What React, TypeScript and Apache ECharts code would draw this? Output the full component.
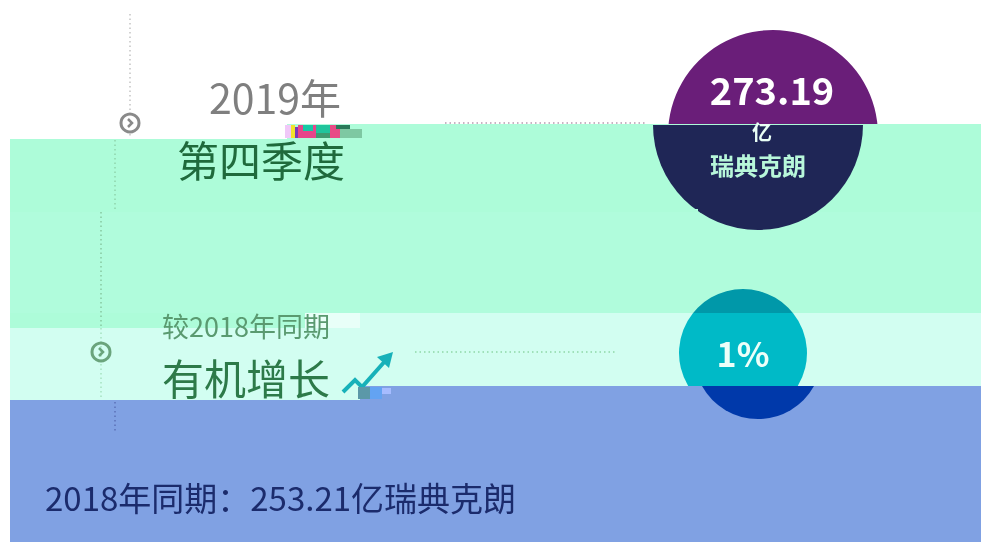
import React, { useEffect, useRef } from "react";
import * as echarts from "echarts";

// ---- data ----
const periodLabels = ["2019年", "第四季度"];
const compareLabels = ["较2018年同期", "有机增长"];
const revenueYears = ["2019", "2018"];
const revenueValues = [273.19, 253.21];
const revenueUnit = ["亿", "瑞典克朗"];
const growthPct = [1];

const FONT = "'Noto Sans CJK SC', 'Noto Sans', sans-serif";

function txt(x: number, y: number, text: string, fill: string, fontSize: number, fontWeight: any = "normal", align = "center", z = 20) {
  return {
    type: "text",
    x,
    y,
    z,
    style: {
      text,
      fill,
      fontSize,
      fontWeight,
      fontFamily: FONT,
      lineHeight: fontSize,
      align,
      verticalAlign: "middle",
      textAlign: align,
      textVerticalAlign: "middle",
    },
  };
}

function dotLine(x1: number, y1: number, x2: number, y2: number, color: string, z = 5) {
  return {
    type: "line",
    z,
    shape: { x1, y1, x2, y2 },
    style: { stroke: color, lineWidth: 1.5, lineDash: [1.5, 3] },
  };
}

function rect(x: number, y: number, w: number, h: number, fill: string, z = 12) {
  return { type: "rect", z, shape: { x, y, width: w, height: h }, style: { fill } };
}

function icon(cx: number, cy: number, color: string) {
  return [
    {
      type: "circle",
      z: 15,
      shape: { cx, cy, r: 9 },
      style: { fill: "none", stroke: color, lineWidth: 3 },
    },
    {
      type: "polyline",
      z: 15,
      shape: { points: [[cx - 2, cy - 4], [cx + 2, cy], [cx - 2, cy + 4]] },
      style: { fill: "none", stroke: color, lineWidth: 2.5 },
    },
  ];
}

let registered = false;
function registerShapes() {
  if (registered) return;
  registered = true;
  echarts.graphic.registerShape(
    "navySeg",
    echarts.graphic.extendPath("M653 125 A105 105 0 0 0 863 125 Z", {}) as any
  );
  echarts.graphic.registerShape(
    "tealMid",
    echarts.graphic.extendPath(
      "M693.04 313 A64 64 0 0 0 688.2 386 L797.8 386 A64 64 0 0 0 792.96 313 Z",
      {}
    ) as any
  );
  echarts.graphic.registerShape(
    "blueBottom",
    echarts.graphic.extendPath("M702 386 A64 64 0 0 0 814 386 Z", {}) as any
  );
}

export default function App() {
  const ref = useRef<HTMLDivElement>(null);

  useEffect(() => {
    if (!ref.current) return;
    registerShapes();
    const chart = echarts.init(ref.current, undefined, { renderer: "svg" });

    const elements: any[] = [
      rect(0, 0, 981, 542, "#ffffff", 0),
      dotLine(130, 14, 130, 112, "#c4c4c4", 1),
      dotLine(130, 134, 130, 138, "#c4c4c4", 1),
      { type: "circle", z: 2, shape: { cx: 773, cy: 135, r: 105 }, style: { fill: "#6a1e79" } },
      {
        type: "polygon",
        z: 3,
        shape: { points: [[10, 139], [287, 139], [287, 124], [981, 124], [981, 400], [10, 400]] },
        style: { fill: "#adfcd9" },
      },
      rect(10, 212, 971, 101, "#b0fcdc", 3),
      dotLine(115, 140, 115, 210, "#8fd4ac"),
      dotLine(101, 212, 101, 400, "#86c8a0"),
      dotLine(445, 123, 645, 123, "#b59ab0", 4),
      { type: "navySeg", z: 6, x: 0, y: 0, style: { fill: "#1f2656" } },
      rect(688, 209, 10, 3, "#adfcd9", 7),
      { type: "circle", z: 6, shape: { cx: 743, cy: 353, r: 64 }, style: { fill: "#0098a9" } },
      {
        type: "polygon",
        z: 7,
        shape: { points: [[10, 328], [307, 328], [307, 313], [981, 313], [981, 400], [10, 400]] },
        style: { fill: "#d2fef1" },
      },
      dotLine(101, 328, 101, 400, "#a6e2c0", 8),
      dotLine(415, 352, 617, 352, "#8ed8a6", 8),
      { type: "tealMid", z: 8, x: 0, y: 0, style: { fill: "#00bac7" } },
      {
        type: "polygon",
        z: 9,
        shape: { points: [[10, 400], [360, 400], [360, 386], [981, 386], [981, 542], [10, 542]] },
        style: { fill: "#80a1e3" },
      },
      { type: "blueBottom", z: 10, x: 0, y: 0, style: { fill: "#0039aa" } },
      dotLine(115, 402, 115, 432, "#5a70b8", 10),
      ...icon(130, 123, "#8a8a8a"),
      ...icon(101, 352, "#6aa47c"),
      {
        type: "polyline",
        z: 15,
        shape: { points: [[343, 392], [355, 380], [362, 387], [386, 360]] },
        style: { fill: "none", stroke: "#17b1b9", lineWidth: 4 },
      },
      {
        type: "polygon",
        z: 15,
        shape: { points: [[393, 352], [377, 357], [389, 368]] },
        style: { fill: "#17b1b9" },
      },
      // glitch artifacts
      rect(285, 125, 6, 13, "#f0c8f8"),
      rect(291, 125, 4, 13, "#f2e22a"),
      rect(295, 127, 3, 11, "#7a3ab8"),
      rect(298, 125, 18, 13, "#e8448a"),
      rect(303, 125, 10, 6, "#18c8a6"),
      rect(316, 125, 14, 8, "#20c49c"),
      rect(316, 133, 16, 5, "#3f9a70"),
      rect(330, 125, 10, 13, "#e84a86"),
      rect(336, 125, 14, 4, "#2a7a5a"),
      rect(340, 129, 22, 9, "#7ec8a2"),
      rect(358, 387, 12, 12, "#5b98a8", 16),
      rect(370, 387, 12, 12, "#63a3f2", 16),
      rect(382, 388, 9, 6, "#a6bcff", 16),
      rect(305, 313, 55, 15, "#e8fff8", 8),
      // texts
      txt(275, 96, periodLabels[0], "#7f7f7f", 41),
      txt(261, 158, periodLabels[1], "#1f6a3c", 42),
      txt(772, 88, revenueValues[0].toFixed(2), "#ffffff", 38, "bold"),
      txt(762, 131, revenueUnit[0], "#eafff6", 20, "bold"),
      txt(758, 164, revenueUnit[1], "#b8f7da", 24, "bold"),
      txt(246, 325, compareLabels[0], "#5a9a70", 27),
      txt(246, 376, compareLabels[1], "#2d7a49", 42),
      txt(743, 352, growthPct[0] + "%", "#ecfff9", 34, "bold"),
      txt(
        45,
        497,
        revenueYears[1] + "年同期：" + revenueValues[1].toFixed(2) + revenueUnit[0] + revenueUnit[1],
        "#1b2b6c",
        33,
        "normal",
        "left"
      ),
    ];

    chart.setOption({
      animation: false,
      graphic: { elements },
    });

    return () => chart.dispose();
  }, []);

  return (
    <div
      ref={ref}
      style={{ position: "fixed", left: 0, top: 0, width: 981, height: 542 }}
    />
  );
}
